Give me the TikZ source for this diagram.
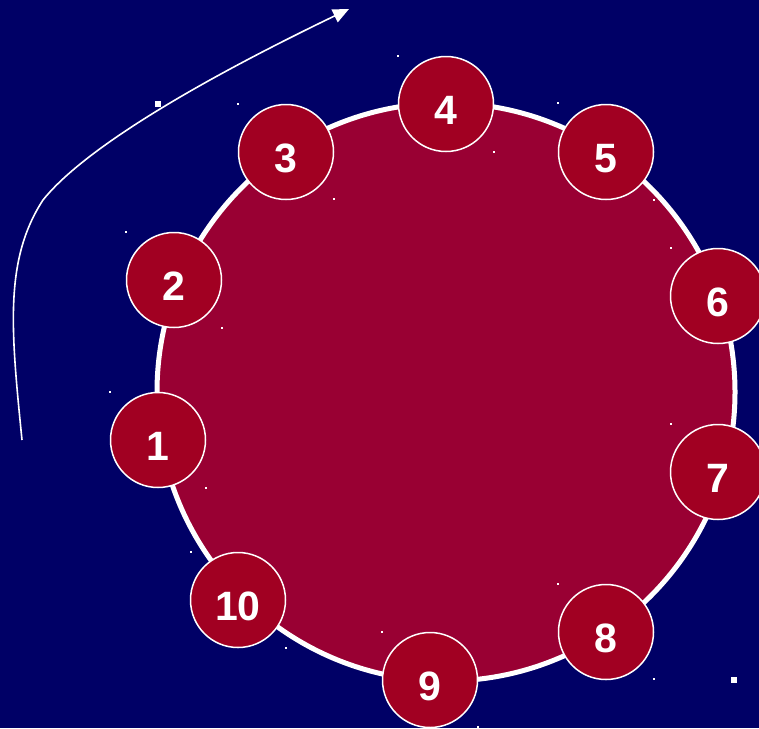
\documentclass[tikz,border=0pt]{standalone}
\usepackage{fontspec}
\setmainfont{Liberation Sans}
\usetikzlibrary{arrows.meta}
\definecolor{bg}{HTML}{000066}
\definecolor{bigred}{HTML}{990033}
\definecolor{smallred}{HTML}{A10022}
\begin{document}
\begin{tikzpicture}[x=1pt,y=-1pt,
  num/.style={circle,draw=white,line width=1.5pt,fill=smallred,minimum size=95pt,inner sep=0pt,
    text=white,font=\fontsize{41}{41}\selectfont\bfseries,text height=41pt,text depth=0pt},
  dot/.style={fill=white,draw=none,minimum size=2pt,inner sep=0pt,rectangle},
  bigdot/.style={fill=white,draw=none,minimum size=6pt,inner sep=0pt,rectangle}]
\fill[bg] (0,0) rectangle (759,728);
\useasboundingbox (0,0) rectangle (759,728);
\node[circle,draw=white,line width=5pt,fill=bigred,minimum size=578pt,inner sep=0pt] (big) at (446,392) {};
\node[num] (n1) at (158,440) {1};
\node[num] (n2) at (174,280) {2};
\node[num] (n3) at (286,152) {3};
\node[num] (n4) at (446,104) {4};
\node[num] (n5) at (606,152) {5};
\node[num] (n6) at (718,296) {6};
\node[num] (n7) at (718,472) {7};
\node[num] (n8) at (606,632) {8};
\node[num] (n9) at (430,680) {9};
\node[num] (n10) at (238,600) {10};
\coordinate (a0) at (22,440);
\coordinate (a1) at (349,9);
\draw[white,line width=1.6pt,-{Triangle[length=16pt,width=14pt]}]
  (a0) .. controls (11,330) and (4,260) .. (43,200) .. controls (75,160) and (160,100) .. (a1);
\foreach \p in {(238,104),(334,199),(126,232),(110,392),(222,328),(206,488),(398,56),(558,103),(494,152),(654,679),(191,552),(286,648),(382,632),(478,727),(654,200),(671,248),(671,424),(558,584)}
  \node[dot] at \p {};
\node[bigdot] (d1) at (158,104) {};
\node[bigdot] (d2) at (734,680) {};
\end{tikzpicture}
\end{document}
